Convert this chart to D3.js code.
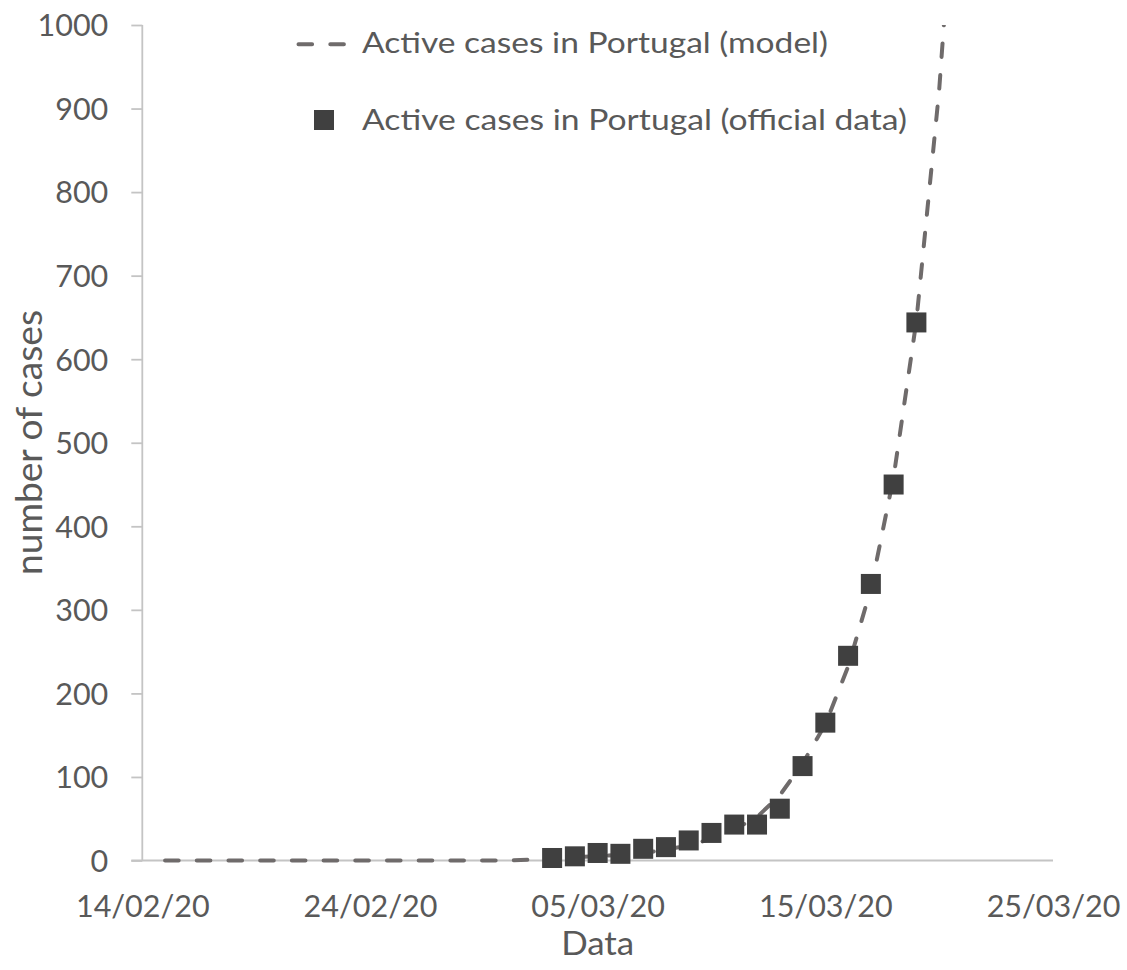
<!DOCTYPE html>
<html>
<head>
<meta charset="utf-8">
<script src="https://cdn.jsdelivr.net/npm/d3@7"></script>
<style>
  html, body { margin: 0; padding: 0; background: #ffffff; }
  svg { display: block; }
  text { font-family: Lato, "Open Sans", sans-serif; fill: #595959; }
</style>
</head>
<body>
<svg id="chart" width="1127" height="970"></svg>
<script>
// ---------- data ----------
const modelDates = [
  "2020-02-15","2020-02-16","2020-02-17","2020-02-18","2020-02-19","2020-02-20",
  "2020-02-21","2020-02-22","2020-02-23","2020-02-24","2020-02-25","2020-02-26",
  "2020-02-27","2020-02-28","2020-02-29","2020-03-01","2020-03-02","2020-03-03",
  "2020-03-04","2020-03-05","2020-03-06","2020-03-07","2020-03-08","2020-03-09",
  "2020-03-10","2020-03-11","2020-03-12","2020-03-13","2020-03-14","2020-03-15",
  "2020-03-16","2020-03-17","2020-03-18","2020-03-19","2020-03-20","2020-03-21"
];
const modelValues = [
  0,0,0,0,0,0,
  0,0,0,0,0,0,
  0,0,0,0,1,2,
  4,5,7,9,13,18,
  26,37,52,78,116,163,
  232,325,459,646,922,1300
];
const officialDates = [
  "2020-03-03","2020-03-04","2020-03-05","2020-03-06","2020-03-07","2020-03-08",
  "2020-03-09","2020-03-10","2020-03-11","2020-03-12","2020-03-13","2020-03-14",
  "2020-03-15","2020-03-16","2020-03-17","2020-03-18","2020-03-19"
];
const officialValues = [3,5,9,8,14,16,24,33,43,43,62,113,165,245,331,450,644];

const xTickDates = ["2020-02-14","2020-02-24","2020-03-05","2020-03-15","2020-03-25"];
const yTicks = [0,100,200,300,400,500,600,700,800,900,1000];

const seriesNames = ["Active cases in Portugal (model)", "Active cases in Portugal (official data)"];
const xTitle = "Data";
const yTitle = "number of cases";

// ---------- layout ----------
(function () {
const parse = d3.utcParse("%Y-%m-%d");
const fmt = d3.utcFormat("%d/%m/%y");
const svg = d3.select("#chart");

const pL = 142.3, pR = 1053, pT = 25, pB = 860.5;
const x = d3.scaleUtc().domain([parse("2020-02-14"), parse("2020-03-25")]).range([pL, pR]);
const y = d3.scaleLinear().domain([0, 1000]).range([pB, pT]);

const axisColor = "#c4c4c4";
const lineColor = "#6f6b6b";
const markColor = "#404040";
const textColor = "#595959";
const font = "Lato, 'Open Sans', sans-serif";

// clip
svg.append("defs").append("clipPath").attr("id", "plotClip")
  .append("rect").attr("x", pL - 5).attr("y", pT).attr("width", pR - pL + 10).attr("height", pB - pT + 5);

// y axis
const yAxis = d3.axisLeft(y).tickValues(yTicks).tickSize(11).tickPadding(23).tickFormat(d3.format("d"));
const gy = svg.append("g").attr("transform", `translate(${pL},0)`).call(yAxis);
gy.select(".domain").attr("stroke", axisColor).attr("stroke-width", 1.8).attr("d", `M0,${pT}V${pB}`);
gy.selectAll(".tick line").attr("stroke", axisColor).attr("stroke-width", 1.8);
gy.selectAll(".tick text")
  .attr("font-family", font)
  .attr("font-size", 30.5).attr("fill", textColor).attr("dy", "0.355em");

// x axis
const xAxis = d3.axisBottom(x).tickValues(xTickDates.map(parse)).tickSize(0).tickPadding(0).tickFormat(fmt);
const gx = svg.append("g").attr("transform", `translate(0,${pB})`).call(xAxis);
gx.select(".domain").attr("stroke", axisColor).attr("stroke-width", 2.2).attr("d", `M${pL - 11},0H${pR}`);
gx.selectAll(".tick text")
  .attr("font-family", font)
  .attr("font-size", 30.5).attr("fill", textColor).attr("y", 56.5).attr("dy", 0);

// model line
const line = d3.line().x((d, i) => x(parse(modelDates[i]))).y(d => y(d));
svg.append("path")
  .datum(modelValues)
  .attr("clip-path", "url(#plotClip)")
  .attr("fill", "none")
  .attr("stroke", lineColor)
  .attr("stroke-width", 4)
  .attr("stroke-linecap", "round")
  .attr("stroke-dasharray", "13.6,18.1")
  .attr("d", line);

// official squares
const sq = 20;
svg.append("g").selectAll("rect")
  .data(officialValues)
  .join("rect")
  .attr("x", (d, i) => x(parse(officialDates[i])) - sq / 2)
  .attr("y", d => y(d) - sq / 2)
  .attr("width", sq).attr("height", sq)
  .attr("fill", markColor);

// axis titles
svg.append("text").attr("x", (pL + pR) / 2).attr("y", 955)
  .attr("text-anchor", "middle").attr("font-size", 32)
  .attr("textLength", 73).attr("lengthAdjust", "spacingAndGlyphs").text(xTitle);
svg.append("text").attr("transform", "translate(41.5,442.5) rotate(-90)")
  .attr("text-anchor", "middle").attr("font-size", 37.5)
  .attr("textLength", 265).attr("lengthAdjust", "spacingAndGlyphs").text(yTitle);

// legend
const lg = svg.append("g");
lg.append("line").attr("x1", 298.5).attr("x2", 344.5).attr("y1", 44.3).attr("y2", 44.3)
  .attr("stroke", lineColor).attr("stroke-width", 4).attr("stroke-linecap", "round")
  .attr("stroke-dasharray", "13.6,18.2");
lg.append("text").attr("x", 362).attr("y", 53).attr("font-size", 29.5)
  .attr("textLength", 466).attr("lengthAdjust", "spacingAndGlyphs").text(seriesNames[0]);
lg.append("rect").attr("x", 314).attr("y", 110).attr("width", sq).attr("height", sq).attr("fill", markColor);
lg.append("text").attr("x", 362).attr("y", 130).attr("font-size", 29.5)
  .attr("textLength", 545).attr("lengthAdjust", "spacingAndGlyphs").text(seriesNames[1]);
})();
</script>
</body>
</html>
